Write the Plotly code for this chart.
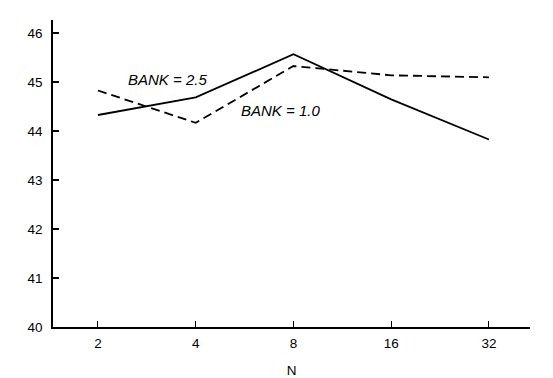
import math
import plotly.graph_objects as go

N = [2, 4, 8, 16, 32]
bank_25 = [44.33, 44.69, 45.57, 44.65, 43.83]
bank_10 = [44.83, 44.17, 45.33, 45.14, 45.10]
y_ticks = [40, 41, 42, 43, 44, 45, 46]

font = dict(family="Liberation Sans, Arial, sans-serif", size=13.5, color="black")
ann_font = dict(family="Liberation Sans, Arial, sans-serif", size=15, color="black")

fig = go.Figure()
fig.add_trace(go.Scatter(x=N, y=bank_25, mode="lines",
                         line=dict(color="black", width=1.8), showlegend=False))
fig.add_trace(go.Scatter(x=N, y=bank_10, mode="lines",
                         line=dict(color="black", width=1.8, dash="9px,5px"), showlegend=False))

fig.add_annotation(x=0.239, xref="paper", y=45.06, yref="y", text="<i>BANK = 2.5</i>",
                   showarrow=False, font=ann_font, xanchor="center", yanchor="middle")
fig.add_annotation(x=0.476, xref="paper", y=44.42, yref="y", text="<i>BANK = 1.0</i>",
                   showarrow=False, font=ann_font, xanchor="center", yanchor="middle")

l2 = math.log10(2)
fig.update_layout(
    width=553, height=378,
    margin=dict(l=53, r=23, t=20, b=51),
    paper_bgcolor="white", plot_bgcolor="white",
    font=font,
    xaxis=dict(type="log", range=[0.54 * l2, 5.42 * l2], tickvals=N,
               ticktext=[str(n) for n in N], showgrid=False, zeroline=False,
               showline=True, linecolor="black", linewidth=1.5,
               ticks="inside", ticklen=6, tickwidth=1.2, tickcolor="black",
               ticklabelstandoff=3, automargin=False,
               title=dict(text="N", standoff=16, font=font)),
    yaxis=dict(range=[40, 46.27], tickvals=y_ticks, showgrid=False, zeroline=False,
               showline=True, linecolor="black", linewidth=1.5,
               ticks="inside", ticklen=6, tickwidth=1.5, tickcolor="black",
               ticklabelstandoff=6, automargin=False),
)

fig.write_html("out.html")
